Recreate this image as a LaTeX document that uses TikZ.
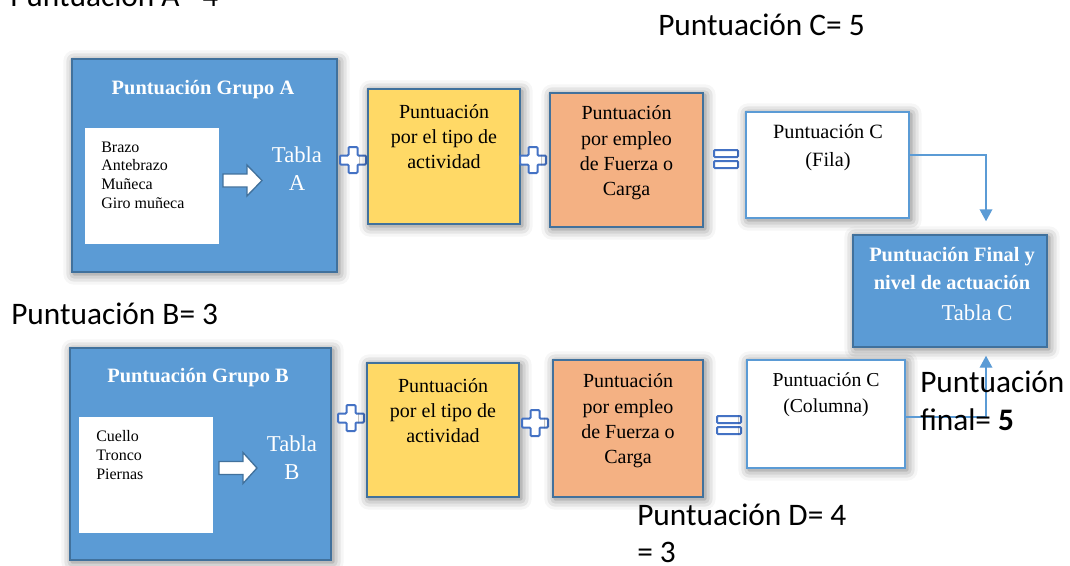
\documentclass[tikz,border=0pt]{standalone}
\usepackage{fontspec}
\setmainfont{Liberation Serif}
\newfontfamily\calib{Carlito}
\usetikzlibrary{shadows.blur,arrows.meta}
\definecolor{bfill}{HTML}{5B9BD5}
\definecolor{bdraw}{HTML}{41719C}
\definecolor{yfill}{HTML}{FFD966}
\definecolor{ofill}{HTML}{F4B183}
\definecolor{symdraw}{HTML}{4472C4}
\begin{document}
\begin{tikzpicture}[x=0.75pt,y=-0.75pt,
  shad/.style={blur shadow={shadow xshift=1.5pt,shadow yshift=-1.5pt,shadow blur radius=8pt,shadow opacity=55}},
  boxbase/.style={rectangle,inner sep=0pt,line width=1.1pt,shad},
  bluebox/.style={boxbase,fill=bfill,draw=bdraw},
  yellowbox/.style={boxbase,fill=yfill,draw=bdraw},
  orangebox/.style={boxbase,fill=ofill,draw=bdraw},
  whitebox/.style={boxbase,fill=white,draw=bfill,line width=1.3pt},
  innerbox/.style={rectangle,inner sep=0pt,fill=white,draw=none},
  boxtext/.style={align=center,font=\fontsize{15}{19}\selectfont,inner sep=0pt},
  titletext/.style={align=center,text=white,font=\fontsize{15.3}{20.5}\selectfont\bfseries,inner sep=0pt},
  tablatext/.style={align=center,text=white,font=\fontsize{17}{21}\selectfont,inner sep=0pt},
  listtext/.style={align=left,font=\fontsize{12}{14}\selectfont,inner sep=0pt,anchor=west},
  lbl/.style={font=\calib\fontsize{23.5}{27}\selectfont,inner sep=0pt,anchor=base west},
  conn/.style={draw=bfill,line width=1.1pt,-{Triangle[width=9.5pt,length=9pt]}},
  bigarrow/.style={fill=white,draw=bdraw,line width=1pt},
  plussign/.pic={\draw[fill=white,draw=symdraw,line width=1.5pt,rounded corners=0.8pt]
     (-4.5,-13)--(4.5,-13)--(4.5,-4.5)--(13,-4.5)--(13,4.5)--(4.5,4.5)--(4.5,13)--(-4.5,13)--(-4.5,4.5)--(-13,4.5)--(-13,-4.5)--(-4.5,-4.5)--cycle;},
  equalsign/.pic={\draw[fill=white,draw=symdraw,line width=1.5pt,rounded corners=0.8pt]
     (-12,-9) rectangle (12,-2) (-12,2) rectangle (12,9);}
]
\useasboundingbox (0,0) rectangle (1070,565);

% top labels
\node[lbl] (la) at (10,6) {Puntuación A= 4};
\node[lbl] (lc) at (658,35) {Puntuación C= 5};
\node[lbl] (lb) at (11,324) {Puntuación B= 3};
\node[lbl] (ld) at (637,525) {Puntuación D= 4};
\node[lbl] (ld2) at (637,562) {= 3};

% Group A
\node[bluebox,minimum width=198.75pt,minimum height=159.75pt] (ga) at (204.5,165.5) {};
\node[titletext] (gat) at (203,90) {Puntuación Grupo A};
\node[innerbox,minimum width=100.5pt,minimum height=87pt] (ia) at (152,186) {};
\node[listtext] (iat) at (101,175) {Brazo\\Antebrazo\\Muñeca\\Giro muñeca};
\draw[bigarrow] (223,174)--(247,174)--(247,165)--(262,180.5)--(247,196)--(247,187)--(223,187)--cycle;
\node[tablatext] (ta) at (297,169) {Tabla\\A};

\pic at (353,160) {plussign};
\node[yellowbox,minimum width=114pt,minimum height=101.25pt] (ya) at (444,156.5) {};
\node[boxtext] (yat) at (444,136.5) {Puntuación\\por el tipo de\\actividad};
\pic at (533,160) {plussign};
\node[orangebox,minimum width=114.75pt,minimum height=100.5pt] (oa) at (626.5,160) {};
\node[boxtext] (oat) at (626.5,153) {Puntuación\\por empleo\\de Fuerza o\\Carga};
\pic at (726,159) {equalsign};
\node[whitebox,minimum width=122.25pt,minimum height=79.5pt] (fila) at (827.5,165) {};
\node[boxtext,font=\fontsize{15.2}{21.5}\selectfont] (filat) at (828,147.5) {Puntuación C\\(Fila)};

% Final
\node[bluebox,minimum width=145.5pt,minimum height=84pt] (fin) at (950,291) {};
\node[titletext] (fint) at (952,268.5) {Puntuación Final y\\nivel de actuación};
\node[tablatext] (fintc) at (977,313) {Tabla C};

% Group B
\node[bluebox,minimum width=195.75pt,minimum height=159pt] (gb) at (200.5,454) {};
\node[titletext] (gbt) at (198,378) {Puntuación Grupo B};
\node[innerbox,minimum width=100.5pt,minimum height=87pt] (ib) at (146,475) {};
\node[listtext] (ibt) at (96,455) {Cuello\\Tronco\\Piernas};
\draw[bigarrow] (219,461.5)--(243,461.5)--(243,452.5)--(257,468)--(243,483.5)--(243,474.5)--(219,474.5)--cycle;
\node[tablatext] (tb) at (292,457.5) {Tabla\\B};

\pic at (351,418) {plussign};
\node[yellowbox,minimum width=114pt,minimum height=100.5pt] (yb) at (443,430) {};
\node[boxtext] (ybt) at (443,410.5) {Puntuación\\por el tipo de\\actividad};
\pic at (535,423) {plussign};
\node[orangebox,minimum width=112.5pt,minimum height=102.75pt] (ob) at (628,428.5) {};
\node[boxtext] (obt) at (628,421) {Puntuación\\por empleo\\de Fuerza o\\Carga};
\pic at (729,425) {equalsign};
\node[whitebox,minimum width=118.5pt,minimum height=81pt] (col) at (826,414) {};
\node[boxtext,font=\fontsize{14.8}{19.5}\selectfont] (colt) at (826,395) {Puntuación C\\(Columna)};

% connectors
\draw[conn,shorten >=9.75pt] ([yshift=7.5pt]fila.east) -| ([xshift=27pt]fin.north);
\draw[conn,shorten >=6pt] ([yshift=-2.25pt]col.east) -| ([xshift=27pt]fin.south);

\node[lbl] (pf) at (920,392) {Puntuación};
\node[lbl] (pf2) at (920,430) {final= \textbf{5}};
\end{tikzpicture}
\end{document}
